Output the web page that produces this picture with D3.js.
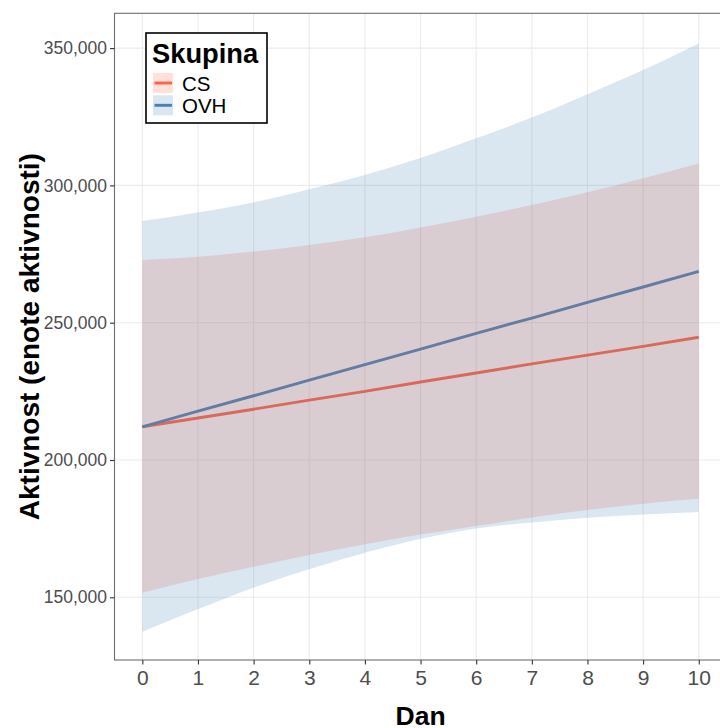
<!DOCTYPE html>
<html><head><meta charset="utf-8">
<script src="https://cdn.jsdelivr.net/npm/d3@7"></script>
<style>body{margin:0;background:#fff} svg{display:block}</style>
</head><body><svg id="c" width="720" height="728"></svg>
<script>
// ---- data ----
const days = [0, 1, 2, 3, 4, 5, 6, 7, 8, 9, 10];
const csFit   = [212100, 215300, 218500, 221800, 225000, 228400, 231700, 235000, 238200, 241400, 244700];
const csLower = [151700, 156700, 161100, 165400, 169300, 172900, 176000, 179100, 181800, 184100, 185900];
const csUpper = [272800, 274000, 275900, 278300, 281100, 284700, 288600, 292900, 297500, 302600, 308000];
const ovhFit   = [212100, 217800, 223400, 229100, 234700, 240400, 246100, 251700, 257400, 263000, 268700];
const ovhLower = [137500, 145700, 153500, 160200, 166200, 171300, 175100, 177200, 179000, 180200, 181100];
const ovhUpper = [287000, 290100, 293800, 298600, 303800, 310000, 317200, 324700, 333200, 342000, 351700];
const groups = ["CS", "OVH"];
const yTicks = [150000, 200000, 250000, 300000, 350000];
const xTicks = [0, 1, 2, 3, 4, 5, 6, 7, 8, 9, 10];
const xTitle = "Dan";
const yTitle = "Aktivnost (enote aktivnosti)";
const legendTitle = "Skupina";

// ---- layout ----
const svg = d3.select("#c");
const L = 114.5, R = 726.6, T = 13.3, B = 660;
const colors = { CS: "#FF6347", OVH: "#4682B4" };
const font = "'Liberation Sans', Arial, sans-serif";

const x = d3.scaleLinear().domain([-0.5, 10.5]).range([L, R]);
const y = d3.scaleLinear().domain([127170, 362670]).range([B, T]);

const series = [
  { name: "CS", fit: csFit, lo: csLower, hi: csUpper },
  { name: "OVH", fit: ovhFit, lo: ovhLower, hi: ovhUpper }
];

// panel background + grid
svg.append("rect").attr("x", L).attr("y", T).attr("width", R - L).attr("height", B - T).attr("fill", "#fff");
const grid = svg.append("g");
grid.selectAll(".gx").data(xTicks).join("line")
  .attr("x1", d => x(d)).attr("x2", d => x(d)).attr("y1", T).attr("y2", B)
  .attr("stroke", "#EBEBEB").attr("stroke-width", 1.1);
grid.selectAll(".gy").data(yTicks).join("line")
  .attr("x1", L).attr("x2", R).attr("y1", d => y(d)).attr("y2", d => y(d))
  .attr("stroke", "#EBEBEB").attr("stroke-width", 1.1);

const lineGen = d3.line().x((d, i) => x(days[i])).y(d => y(d));
const areaGen = s => d3.area()
  .x((d, i) => x(days[i]))
  .y0((d, i) => y(s.lo[i]))
  .y1((d, i) => y(s.hi[i]))
  .curve(d3.curveMonotoneX)(days);

// lines (under ribbons)
series.forEach(s => {
  svg.append("path").attr("d", lineGen(s.fit)).attr("fill", "none")
    .attr("stroke", colors[s.name]).attr("stroke-width", 2.9);
});
// ribbons
series.forEach(s => {
  svg.append("path").attr("d", areaGen(s)).attr("fill", colors[s.name]).attr("fill-opacity", 0.2);
});

// border
svg.append("rect").attr("x", L).attr("y", T).attr("width", R - L).attr("height", B - T)
  .attr("fill", "none").attr("stroke", "#6E6E6E").attr("stroke-width", 1.1);

// axes
const yAxis = svg.append("g").attr("transform", `translate(${L},0)`)
  .call(d3.axisLeft(y).tickValues(yTicks).tickFormat(d3.format(",")).tickSize(4.5).tickPadding(3));
const xAxis = svg.append("g").attr("transform", `translate(0,${B})`)
  .call(d3.axisBottom(x).tickValues(xTicks).tickFormat(d3.format("d")).tickSize(4.5).tickPadding(6));
[yAxis, xAxis].forEach(a => {
  a.select(".domain").remove();
  a.selectAll(".tick line").attr("stroke", "#333").attr("stroke-width", 1.1);
  a.selectAll(".tick text").attr("fill", "#4D4D4D").attr("font-family", font);
});
yAxis.selectAll(".tick text").attr("font-size", 17.5);
xAxis.selectAll(".tick text").attr("font-size", 21);

// axis titles
svg.append("text").attr("x", (L + R) / 2).attr("y", 725).attr("text-anchor", "middle")
  .attr("font-family", font).attr("font-weight", "bold").attr("font-size", 26.5).attr("fill", "#000")
  .text(xTitle);
svg.append("text").attr("transform", `translate(39,${(T + B) / 2}) rotate(-90)`).attr("text-anchor", "middle")
  .attr("font-family", font).attr("font-weight", "bold").attr("font-size", 28).attr("fill", "#000")
  .text(yTitle);

// legend
const lg = svg.append("g");
lg.append("rect").attr("x", 146).attr("y", 33).attr("width", 121).attr("height", 90)
  .attr("fill", "#fff").attr("stroke", "#000").attr("stroke-width", 1.6);
lg.append("text").attr("x", 152).attr("y", 63).attr("font-family", font).attr("font-weight", "bold")
  .attr("font-size", 27.3).attr("fill", "#000").text(legendTitle);
groups.forEach((g, i) => {
  const ky = 73 + i * 22.3;
  lg.append("line").attr("x1", 154.5).attr("x2", 172).attr("y1", ky + 10).attr("y2", ky + 10)
    .attr("stroke", colors[g]).attr("stroke-width", 2.9);
  lg.append("rect").attr("x", 153).attr("y", ky).attr("width", 20).attr("height", 20)
    .attr("fill", colors[g]).attr("fill-opacity", 0.2);
  lg.append("text").attr("x", 182).attr("y", ky + 17.7).attr("font-family", font)
    .attr("font-size", 20.5).attr("fill", "#000").text(g);
});
</script>
</body></html>
